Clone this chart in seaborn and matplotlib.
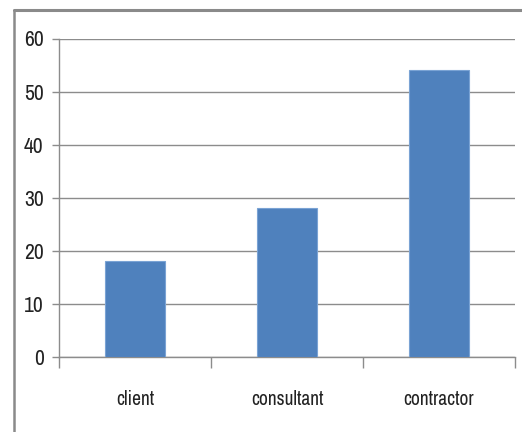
import matplotlib
matplotlib.use("Agg")
import matplotlib.pyplot as plt
from matplotlib import font_manager
from matplotlib.lines import Line2D
from matplotlib.ticker import FixedLocator
import seaborn as sns
import pandas as pd

categories = ["client", "consultant", "contractor"]
values = [18, 28, 54]
y_ticks = [0, 10, 20, 30, 40, 50, 60]

sns.set_theme(style="white")


def _is_regular(f):
    w = f.weight
    if isinstance(w, str):
        w = {"normal": 400, "regular": 400, "book": 400}.get(w.lower(), 700)
    return f.style == "normal" and 350 <= w <= 450


# prefer a narrow regular sans face for the labels
entries = font_manager.fontManager.ttflist
narrow = [f for f in entries if _is_regular(f) and "Narrow" in f.name]
if not narrow:
    narrow = [f for f in entries if _is_regular(f) and
              (f.stretch in ("condensed", "semi-condensed", "extra-condensed")
               or "Condensed" in f.name)]
if narrow:
    label_font = font_manager.FontProperties(fname=narrow[0].fname)
else:
    label_font = font_manager.FontProperties(family="DejaVu Sans")
plt.rcParams["font.family"] = ["DejaVu Sans"]

df = pd.DataFrame({"party": categories, "count": values})

fig = plt.figure(figsize=(5.22, 4.32), dpi=100)
ax = fig.add_axes([59 / 522, 1 - 356.7 / 432, (515 - 59) / 522, (356.7 - 38.5) / 432])

grid_color = "#8c8c8c"
text_color = "#222222"

sns.barplot(data=df, x="party", y="count", order=categories, color="#4F81BD",
            saturation=1, width=0.4, edgecolor="#7aa3d4", linewidth=0.8,
            ax=ax, zorder=3)

ax.set_ylim(0, 60)
ax.set_xlim(-0.5, len(categories) - 0.5)
ax.set_yticks(y_ticks)
ax.yaxis.grid(True, color=grid_color, linewidth=1.0)
ax.set_axisbelow(True)

for side in ["top", "right"]:
    ax.spines[side].set_visible(False)
for side in ["left", "bottom"]:
    ax.spines[side].set_color(grid_color)
    ax.spines[side].set_linewidth(1.0)

ax.set_xlabel("")
ax.set_ylabel("")

# y ticks: short outward marks, labels to the left
ax.tick_params(axis="y", which="major", direction="out", length=5, width=1,
               color=grid_color, pad=6, labelcolor=text_color, left=True)

# x axis: category labels without marks, boundary marks as minor ticks
ax.tick_params(axis="x", which="major", length=0, pad=24, labelcolor=text_color)
ax.xaxis.set_minor_locator(FixedLocator([-0.5, 0.5, 1.5, 2.5]))
ax.tick_params(axis="x", which="minor", direction="out", length=8, width=1,
               color=grid_color, bottom=True)

for lab in ax.get_yticklabels():
    lab.set_fontproperties(label_font)
    lab.set_fontsize(15.5)
for lab in ax.get_xticklabels():
    lab.set_fontproperties(label_font)
    lab.set_fontsize(14)

# chart frame along the left and top edges
frame_color = "#8a8a8a"
fig.add_artist(Line2D([14 / 522, 14 / 522], [0, 1 - 10 / 432], transform=fig.transFigure,
                      color=frame_color, linewidth=1.8))
fig.add_artist(Line2D([14 / 522, 1], [1 - 10 / 432, 1 - 10 / 432], transform=fig.transFigure,
                      color=frame_color, linewidth=2.2))

fig.savefig("out.png", dpi=100, facecolor="white")
